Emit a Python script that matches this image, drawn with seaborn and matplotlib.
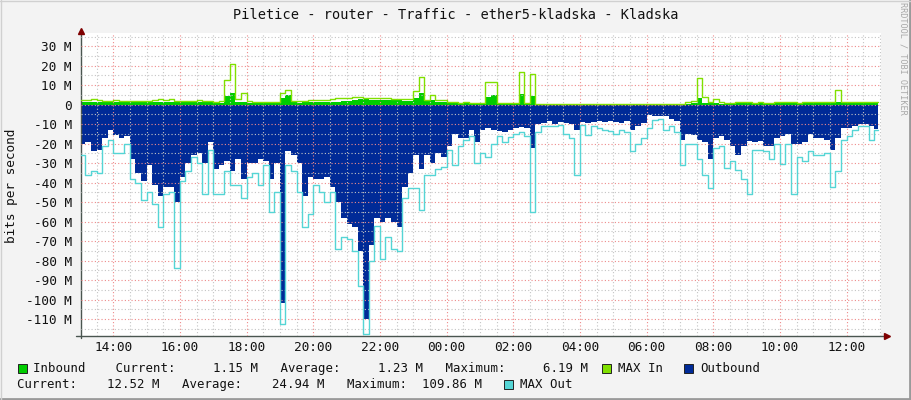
import numpy as np
import pandas as pd
import matplotlib
matplotlib.use("Agg")
import matplotlib.pyplot as plt
import matplotlib.dates as mdates
from matplotlib.ticker import MultipleLocator, FuncFormatter
from matplotlib.patches import Rectangle
from matplotlib.lines import Line2D
import seaborn as sns

sns.set_theme(style="white")
plt.rcParams["font.family"] = ["DejaVu Sans Mono"]

# 10-minute samples from 13:00 to 13:00 next day, Mbit/s (one row = 4 hours)
in_avg = [
    1.5, 1.4, 1.5, 1.3, 1.2, 1.3, 1.4, 1.3, 1.2, 1.3, 1.2, 1.2, 1.3, 1.4, 1.3, 1.4, 1.3, 1.2, 1.3, 1.2, 1.2, 1.3, 1.4, 1.3,
    1.0, 1.0, 4.5, 6.0, 1.5, 1.5, 1.0, 1.0, 0.9, 0.8, 0.9, 1.0, 3.3, 5.0, 1.2, 1.0, 1.2, 1.3, 1.5, 1.5, 1.4, 1.5, 1.6, 1.8,
    2.0, 2.6, 2.7, 2.7, 2.6, 2.5, 2.4, 2.3, 2.2, 2.2, 2.0, 2.0, 3.5, 6.19, 1.8, 2.5, 1.6, 1.5, 0.8, 0.8, 0.7, 0.8, 0.5, 0.5,
    0.4, 4.0, 5.0, 0.4, 0.4, 0.4, 0.4, 5.5, 0.5, 4.5, 0.3, 0.3, 0.3, 0.3, 0.3, 0.3, 0.3, 0.3, 0.3, 0.3, 0.3, 0.3, 0.3, 0.3,
    0.3, 0.3, 0.3, 0.3, 0.3, 0.3, 0.3, 0.3, 0.3, 0.3, 0.3, 0.3, 0.3, 0.6, 1.0, 3.3, 1.0, 0.8, 1.0, 0.6, 0.5, 0.6, 0.7, 0.7,
    0.8, 0.7, 0.8, 0.7, 0.7, 0.7, 0.8, 0.8, 0.7, 0.8, 0.8, 0.7, 0.8, 0.8, 0.9, 0.9, 1.5, 1.0, 1.0, 1.1, 1.1, 1.2, 1.2, 1.15,
]
in_max = [
    2.3, 2.2, 2.8, 2.5, 1.8, 1.8, 2.2, 2.0, 1.8, 1.8, 2.0, 1.8, 1.8, 2.5, 2.7, 2.5, 2.7, 2.0, 1.8, 1.8, 2.0, 2.2, 2.0, 1.9,
    1.5, 2.0, 12.7, 21.0, 3.0, 5.8, 1.8, 1.6, 1.4, 1.3, 1.6, 1.5, 6.0, 7.5, 2.0, 1.8, 2.0, 2.4, 2.5, 2.5, 2.2, 3.0, 3.2, 3.3,
    3.3, 3.7, 3.7, 3.6, 3.5, 3.6, 3.4, 3.2, 3.0, 3.0, 2.8, 2.7, 7.0, 14.0, 2.5, 5.0, 2.5, 2.4, 1.3, 1.2, 1.0, 1.5, 0.8, 0.8,
    0.7, 11.8, 11.8, 0.7, 0.7, 0.7, 0.7, 17.0, 1.0, 15.6, 0.6, 0.6, 0.5, 0.5, 0.6, 0.5, 0.5, 0.6, 0.5, 0.5, 0.6, 0.5, 0.5, 0.5,
    0.5, 0.5, 0.5, 0.5, 0.5, 0.5, 0.5, 0.5, 0.5, 0.5, 0.5, 0.5, 0.5, 1.5, 2.0, 13.5, 3.8, 1.5, 2.7, 1.2, 1.0, 1.0, 1.2, 1.2,
    1.5, 1.0, 1.2, 1.0, 1.0, 1.3, 1.2, 1.3, 1.2, 1.0, 1.5, 1.2, 1.2, 1.3, 1.2, 1.2, 7.5, 1.5, 1.5, 1.4, 1.5, 1.6, 1.6, 1.6,
]
out_avg = [
    20, 19, 24, 23, 17, 13, 15.5, 17, 16, 28, 35, 39, 31, 41, 47, 42, 42, 50, 37, 30, 26, 25, 30, 19,
    33, 31, 29, 34, 28, 38, 30, 30, 28, 29, 38, 30, 102, 24, 26, 30, 47, 37, 38, 38, 37, 42, 50, 58,
    61, 63, 75, 109.86, 72, 58, 60, 58, 60, 63, 42, 35, 26, 33, 26, 30, 25, 27, 21, 15, 17, 17, 13, 19,
    13, 12, 13, 13.5, 14, 13, 12, 11.5, 12, 22, 10, 9.5, 8.5, 10, 9, 9.5, 10, 13, 9, 9.5, 9, 8.5, 9, 8.5,
    9, 9.5, 8.5, 13, 11, 9.5, 5.5, 6, 6, 6, 7.5, 8.5, 18, 15, 15.5, 18, 19, 28, 17, 16, 18, 21, 26, 21,
    18.5, 19, 18.5, 21, 21, 17, 16, 15, 20, 20, 19, 15, 17, 17, 18, 23, 17, 12, 12, 11, 10, 10, 11, 12.52,
]
out_max = [
    26, 36, 34, 35, 21, 18, 25, 25, 20, 38, 40, 49, 45, 51, 63, 46, 45, 83.6, 39, 34, 27, 30, 46, 23,
    46, 46, 34, 41, 41, 48, 37, 35, 41, 31, 55, 45, 112.7, 31, 34, 45, 63, 56, 41, 45, 50, 45, 74, 68,
    69, 75, 93, 117.5, 80, 62, 79, 68, 74, 75, 48, 43, 43, 54, 36, 36, 33, 32, 23, 31, 21, 18, 16, 30,
    25, 27, 20, 16, 19, 16.5, 15, 14, 16, 55, 14, 11, 11, 11, 10.5, 15, 17, 36, 10.5, 15.5, 11, 12, 13, 13.5,
    15, 13, 14, 24, 20, 17, 12, 8, 7.5, 13, 11, 14, 31, 20, 20, 28, 36, 43, 22, 21, 32.7, 29, 33.6, 38,
    46, 23, 23, 24, 28, 20, 30.5, 20, 46, 27, 29, 24, 26, 26, 25, 42, 34, 18, 16, 13, 11, 11, 18, 13,
]

TITLE = "Piletice - router - Traffic - ether5-kladska - Kladska"
LEGEND_ROW1 = "Inbound    Current:     1.15 M   Average:     1.23 M   Maximum:     6.19 M"
LEGEND_ROW2 = "Current:    12.52 M   Average:    24.94 M   Maximum:  109.86 M"

C_IN, C_IN_MAX = "#00CC00", "#80E000"
C_OUT, C_OUT_MAX = "#002A97", "#55D5D5"
AXIS = "#4A5550"

times = list(pd.date_range("2024-05-01 13:00", periods=len(in_avg), freq="10min"))
df = pd.DataFrame({
    "time": times + [pd.Timestamp("2024-05-02 12:56")],
    "in_avg": in_avg + in_avg[-1:],
    "in_max": in_max + in_max[-1:],
    "out_avg": [-v for v in out_avg + out_avg[-1:]],
    "out_max": [-v for v in out_max + out_max[-1:]],
})

W, H = 911, 400


def fx(px):
    return px / W


def fy(py):
    return 1 - py / H


fig = plt.figure(figsize=(W / 100, H / 100), dpi=100, facecolor="#F3F3F3")
ax = fig.add_axes([fx(81), fy(336), 800 / W, (336 - 33) / H])
ax.set_facecolor("white")

ax.fill_between(df["time"], 0, df["in_avg"], step="post", color=C_IN, lw=0, zorder=1)
sns.lineplot(data=df, x="time", y="in_max", drawstyle="steps-post", color=C_IN_MAX,
             lw=1, estimator=None, ax=ax, zorder=3)
ax.fill_between(df["time"], 0, df["out_avg"], step="post", color=C_OUT, lw=0, zorder=1)
sns.lineplot(data=df, x="time", y="out_max", drawstyle="steps-post", color=C_OUT_MAX,
             lw=1, estimator=None, ax=ax, zorder=3)

ax.set_xlim(pd.Timestamp("2024-05-01 13:02"), pd.Timestamp("2024-05-02 13:02"))
ax.set_ylim(-118.7, 36.8)
ax.set_xlabel("")
ax.set_ylabel("")

ax.xaxis.set_major_locator(mdates.HourLocator(byhour=range(0, 24, 2)))
ax.xaxis.set_minor_locator(mdates.MinuteLocator(byminute=[0, 30]))
ax.xaxis.set_major_formatter(mdates.DateFormatter("%H:%M"))
ax.yaxis.set_major_locator(MultipleLocator(10))
ax.yaxis.set_minor_locator(MultipleLocator(5))
ax.yaxis.set_major_formatter(FuncFormatter(lambda v, p: "0" if abs(v) < 1e-6 else f"{v:.0f} M"))

ax.set_axisbelow(False)
ax.grid(which="major", color="#EE8A8A", ls=(0, (1, 2)), lw=0.8)
ax.grid(which="minor", color="#C4C4C4", ls=(0, (1, 2)), lw=0.8)

for side in ["top", "right", "left", "bottom"]:
    ax.spines[side].set_visible(False)
ax.tick_params(which="both", direction="inout", color=AXIS, width=0.8, labelcolor="#111111")
ax.tick_params(which="major", length=4)
ax.tick_params(which="minor", length=3)
ax.tick_params(axis="y", labelsize=9.2, pad=4.5)
ax.tick_params(axis="x", labelsize=9.2, pad=1.5)

# axes with arrows
ax.add_line(Line2D([-0.006, 1.005], [0, 0], transform=ax.transAxes, color=AXIS, lw=1, clip_on=False))
ax.add_line(Line2D([0, 0], [-0.007, 1.0], transform=ax.transAxes, color=AXIS, lw=1, clip_on=False))
ax.plot([1.007], [0], marker=">", ms=4, color="#7F0000", transform=ax.transAxes, clip_on=False)
ax.plot([0], [1.005], marker="^", ms=4, color="#7F0000", transform=ax.transAxes, clip_on=False)

# texts
fig.text(0.5, fy(15), TITLE, ha="center", va="center", fontsize=9.8, color="#111111")
fig.text(fx(12), fy(186), "bits per second", rotation=90, ha="center", va="center",
         fontsize=9.2, color="#111111")
fig.text(fx(903), fy(58), "RRDTOOL / TOBI OETIKER", rotation=270, ha="center", va="center",
         fontsize=6.1, color="#A8A8A8")

# legend
for x0, y0, c in [(18, 364, C_IN), (602, 364, C_IN_MAX), (684, 364, C_OUT), (504, 380, C_OUT_MAX)]:
    fig.patches.append(Rectangle((fx(x0), fy(y0 + 9)), 9 / W, 9 / H, transform=fig.transFigure,
                                 facecolor=c, edgecolor="#222222", lw=0.7))
fig.text(fx(33), fy(368.5), LEGEND_ROW1, ha="left", va="center", fontsize=8.9, color="#111111")
fig.text(fx(618), fy(368.5), "MAX In", ha="left", va="center", fontsize=8.9, color="#111111")
fig.text(fx(700), fy(368.5), "Outbound", ha="left", va="center", fontsize=8.9, color="#111111")
fig.text(fx(17), fy(384.5), LEGEND_ROW2, ha="left", va="center", fontsize=8.9, color="#111111")
fig.text(fx(520), fy(384.5), "MAX Out", ha="left", va="center", fontsize=8.9, color="#111111")

# image frame shading
fig.add_artist(Line2D([0, 1], [fy(399), fy(399)], transform=fig.transFigure, color="#9A9A9A", lw=2))
fig.add_artist(Line2D([fx(910), fx(910)], [0, 1], transform=fig.transFigure, color="#9A9A9A", lw=2))
fig.add_artist(Line2D([0, 1], [fy(0.5), fy(0.5)], transform=fig.transFigure, color="#D0D0D0", lw=1))
fig.add_artist(Line2D([fx(0.5), fx(0.5)], [0, 1], transform=fig.transFigure, color="#D0D0D0", lw=1))

fig.savefig("out.png", dpi=100, facecolor=fig.get_facecolor())
